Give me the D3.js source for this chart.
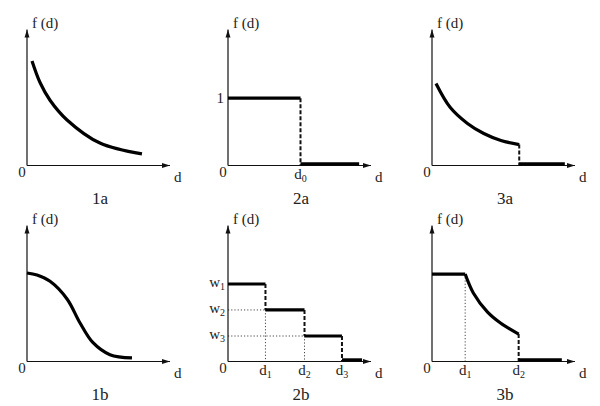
<!DOCTYPE html>
<html>
<head>
<meta charset="utf-8">
<script src="https://cdn.jsdelivr.net/npm/d3@7"></script>
<style>
  body { margin: 0; background: #fff; }
  text { font-family: "Liberation Serif", "Times New Roman", Times, serif; fill: #222; }
</style>
</head>
<body>
<div id="chart"></div>
<script>
// values, in axis units (0..1 of each axis)
const curve1a = [[0.035, 0.768], [0.091, 0.61], [0.161, 0.48], [0.28, 0.335], [0.51, 0.165], [0.804, 0.085]]
const curve1b = [[0, 0.651], [0.07, 0.636], [0.161, 0.59], [0.28, 0.46], [0.371, 0.283], [0.46, 0.14], [0.58, 0.05], [0.734, 0.026]]
const level2a = [0.495]            // f = 1
const cut2a = [0.507, 0.917]       // d0, end of tail
const levels2b = [0.57, 0.379, 0.1875]   // w1, w2, w3
const cuts2b = [0.262, 0.535, 0.797, 0.9375] // d1, d2, d3, end
const curve3a = [[0.028, 0.603], [0.128, 0.426], [0.248, 0.309], [0.362, 0.235], [0.482, 0.184], [0.61, 0.154]]
const tail3a = [0.61, 0.929]
const curve3b = [[0, 0.643], [0.232, 0.643], [0.289, 0.504], [0.387, 0.365], [0.479, 0.283], [0.606, 0.202]]
const tail3b = [0.606, 0.908]

const panelNames = ["1a", "2a", "3a", "1b", "2b", "3b"]

const width = 600
const height = 406
const svg = d3.select("#chart").append("svg")
  .attr("width", width)
  .attr("height", height)

svg.append("defs").append("marker")
  .attr("id", "arrow")
  .attr("viewBox", "0 0 8 6")
  .attr("refX", 8).attr("refY", 3)
  .attr("markerWidth", 8).attr("markerHeight", 6)
  .attr("markerUnits", "userSpaceOnUse")
  .attr("orient", "auto")
  .append("path").attr("d", "M0,0.5 L8,3 L0,5.5 Z").attr("fill", "#111")

// panel origins (where the two axes meet)
const origins = {
  "1a": [27, 165.5], "2a": [228, 165.5], "3a": [432, 165.5],
  "1b": [27, 361.5], "2b": [228, 361.5], "3b": [432, 361.5]
}

const x = d3.scaleLinear().domain([0, 1]).range([0, 143])
const y = d3.scaleLinear().domain([0, 1]).range([0, -136])
const line = d3.line().x(d => x(d[0])).y(d => y(d[1])).curve(d3.curveCatmullRom.alpha(0.5))
const straight = d3.line().x(d => x(d[0])).y(d => y(d[1]))

const thick = 3.2

const panels = {}
panelNames.forEach(name => {
  panels[name] = svg.append("g").attr("transform", `translate(${origins[name][0]},${origins[name][1]})`)
})

function dotted(g, pts) {
  g.append("path").attr("d", straight(pts))
    .attr("fill", "none").attr("stroke", "#333").attr("stroke-width", 0.9)
    .attr("stroke-dasharray", "1.2,2")
}
function dashed(g, pts) {
  g.append("path").attr("d", straight(pts))
    .attr("fill", "none").attr("stroke", "#111").attr("stroke-width", 2)
    .attr("stroke-dasharray", "4,2")
}
function solid(g, pts, curved) {
  g.append("path").attr("d", (curved ? line : straight)(pts))
    .attr("fill", "none").attr("stroke", "#000").attr("stroke-width", thick)
}
// tail lying on the d axis, raised so it touches the axis
function tail(g, x0, x1) {
  g.append("line")
    .attr("x1", x(x0)).attr("x2", x(x1))
    .attr("y1", y(0) - 1.6).attr("y2", y(0) - 1.6)
    .attr("stroke", "#000").attr("stroke-width", thick)
}

// 2b guides, drawn first so they sit under everything
{
  const g = panels["2b"]
  dotted(g, [[0, levels2b[1]], [cuts2b[0], levels2b[1]]])
  dotted(g, [[0, levels2b[2]], [cuts2b[1], levels2b[2]]])
  dotted(g, [[cuts2b[0], levels2b[1]], [cuts2b[0], 0]])
  dotted(g, [[cuts2b[1], levels2b[2]], [cuts2b[1], 0]])
}
// 3b guide
dotted(panels["3b"], [[curve3b[1][0], curve3b[1][1]], [curve3b[1][0], 0]])

// axes
panelNames.forEach(name => {
  const g = panels[name]
  g.append("line").attr("x1", x(0)).attr("y1", y(0)).attr("x2", x(0)).attr("y2", y(1))
    .attr("stroke", "#111").attr("stroke-width", 1.2).attr("marker-end", "url(#arrow)")
  g.append("line").attr("x1", x(0)).attr("y1", y(0)).attr("x2", x(1)).attr("y2", y(0))
    .attr("stroke", "#111").attr("stroke-width", 1.2).attr("marker-end", "url(#arrow)")
  g.append("text").attr("x", 5).attr("y", y(1) - 2).attr("font-size", 15).text("f (d)")
  g.append("text").attr("x", -5).attr("y", 11.5).attr("font-size", 15).attr("text-anchor", "middle").text("0")
  g.append("text").attr("x", x(1) + 4).attr("y", 16.5).attr("font-size", 15).text("d")
  g.append("text").attr("x", 73).attr("y", 38.5).attr("font-size", 17).attr("text-anchor", "middle").text(name)
})

// subscripted label helper
function subLabel(g, px, py, main, sub, anchor) {
  const t = g.append("text").attr("x", px).attr("y", py).attr("font-size", 15)
    .attr("text-anchor", anchor || "middle")
  t.append("tspan").text(main)
  t.append("tspan").attr("font-size", 10).attr("dy", 3).text(sub)
}

// 1a
solid(panels["1a"], curve1a, true)
// 1b
solid(panels["1b"], curve1b, true)

// 2a
{
  const g = panels["2a"]
  solid(g, [[0, level2a[0]], [cut2a[0], level2a[0]]])
  dashed(g, [[cut2a[0], level2a[0]], [cut2a[0], 0]])
  tail(g, cut2a[0], cut2a[1])
  g.append("text").attr("x", -4).attr("y", y(level2a[0]) + 5).attr("font-size", 15)
    .attr("text-anchor", "end").text("1")
  subLabel(g, x(cut2a[0]), 13.5, "d", "0")
}

// 2b
{
  const g = panels["2b"]
  let prev = 0
  levels2b.forEach((w, i) => {
    solid(g, [[prev, w], [cuts2b[i], w]])
    dashed(g, [[cuts2b[i], w], [cuts2b[i], i < 2 ? levels2b[i + 1] : 0]])
    prev = cuts2b[i]
    subLabel(g, -3, y(w) + 3, "w", String(i + 1), "end")
    subLabel(g, x(cuts2b[i]), 13.5, "d", String(i + 1))
  })
  tail(g, cuts2b[2], cuts2b[3])
}

// 3a
{
  const g = panels["3a"]
  solid(g, curve3a, true)
  dashed(g, [[tail3a[0], curve3a[curve3a.length - 1][1]], [tail3a[0], 0]])
  tail(g, tail3a[0], tail3a[1])
}

// 3b
{
  const g = panels["3b"]
  solid(g, curve3b.slice(0, 2))
  solid(g, curve3b.slice(1), true)
  dashed(g, [[tail3b[0], curve3b[curve3b.length - 1][1]], [tail3b[0], 0]])
  tail(g, tail3b[0], tail3b[1])
  subLabel(g, x(curve3b[1][0]), 13.5, "d", "1")
  subLabel(g, x(tail3b[0]), 13.5, "d", "2")
}
</script>
</body>
</html>
